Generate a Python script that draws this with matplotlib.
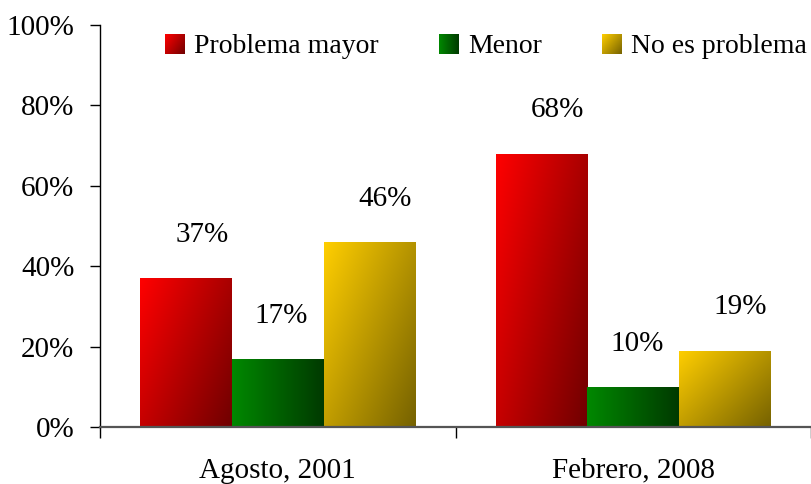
import numpy as np
import matplotlib.pyplot as plt
from matplotlib.legend_handler import HandlerBase
from matplotlib.image import BboxImage
from matplotlib.transforms import Bbox, TransformedBbox
from matplotlib.patches import Patch

plt.rcParams['font.family'] = ['Liberation Serif', 'DejaVu Serif']

# datos
categorias = ["Agosto, 2001", "Febrero, 2008"]
series = ["Problema mayor", "Menor", "No es problema"]
problema_mayor = [37, 68]
menor = [17, 10]
no_es_problema = [46, 19]
valores = [problema_mayor, menor, no_es_problema]

# gradientes: (color claro, color oscuro, peso horizontal)
gradientes = [
    ((255, 0, 0), (112, 0, 0), 0.6),
    ((0, 136, 0), (0, 58, 0), 1.0),
    ((255, 206, 0), (118, 98, 0), 0.55),
]
# las etiquetas de Excel quedan algo corridas a la derecha
corrimiento = [0.045, 0.01, 0.043]


def hacer_gradiente(c0, c1, wx, n=64):
    u = np.linspace(0, 1, n)
    xx, yy = np.meshgrid(u, u)  # yy = 0 arriba
    t = wx * xx + (1 - wx) * yy
    c0 = np.array(c0) / 255.0
    c1 = np.array(c1) / 255.0
    return c0 + (c1 - c0) * t[..., None]


class HandlerGradiente(HandlerBase):
    def __init__(self, img):
        super().__init__()
        self.img = img

    def create_artists(self, legend, orig_handle, xdescent, ydescent,
                       width, height, fontsize, trans):
        lado = height * 1.0
        bb = Bbox.from_bounds(-xdescent + width - lado, -ydescent - 0.05 * height, lado, lado)
        im = BboxImage(TransformedBbox(bb, trans), interpolation='bilinear')
        im.set_data(self.img)
        return [im]


fig = plt.figure(figsize=(8.11, 4.84), dpi=100)
ax = fig.add_axes([100 / 811, 57 / 484, 711 / 811, 402 / 484])

x = np.arange(len(categorias))
ancho = 0.258
desp = [-ancho, 0, ancho]

imgs = []
for i, vals in enumerate(valores):
    g = hacer_gradiente(*gradientes[i])
    imgs.append(g)
    barras = ax.bar(x + desp[i], vals, ancho, color='none', edgecolor='none')
    for b, v in zip(barras, vals):
        x0 = b.get_x()
        im = ax.imshow(g, extent=(x0, x0 + b.get_width(), 0, b.get_height()),
                       aspect='auto', interpolation='bilinear', zorder=1)
        im.set_clip_path(b)
        ax.text(b.get_x() + b.get_width() / 2 + corrimiento[i], v + 7.5, f"{v}%",
                ha='center', va='bottom', fontsize=21)

ax.set_xlim(-0.5, 1.5)
ax.set_ylim(0, 100)
ax.set_yticks(np.arange(0, 101, 20))
ax.set_yticklabels([f"{t}%" for t in range(0, 101, 20)], fontsize=21)
ax.set_xticks(x)
ax.set_xticklabels(categorias, fontsize=21)
ax.set_xticks([-0.5, 0.5, 1.5], minor=True)
ax.tick_params(axis='x', which='major', length=0, pad=22)
ax.tick_params(axis='x', which='minor', length=8, width=1, direction='out')
ax.tick_params(axis='y', length=7.5, width=1, direction='out', pad=11)

for s in ['top', 'right']:
    ax.spines[s].set_visible(False)
ax.spines['left'].set_linewidth(1)
ax.spines['bottom'].set_color('#555555')
ax.spines['bottom'].set_linewidth(1.6)
ax.spines['bottom'].set_zorder(3)

handles = [Patch(label=s) for s in series]
ax.legend(handles=handles, labels=series, handler_map={h: HandlerGradiente(g) for h, g in zip(handles, imgs)},
          loc='upper right', bbox_to_anchor=(1.029, 1.042), ncol=3, frameon=False, fontsize=20,
          handlelength=0.6, handletextpad=0.35, columnspacing=2.25)

plt.savefig("out.png", dpi=100)
